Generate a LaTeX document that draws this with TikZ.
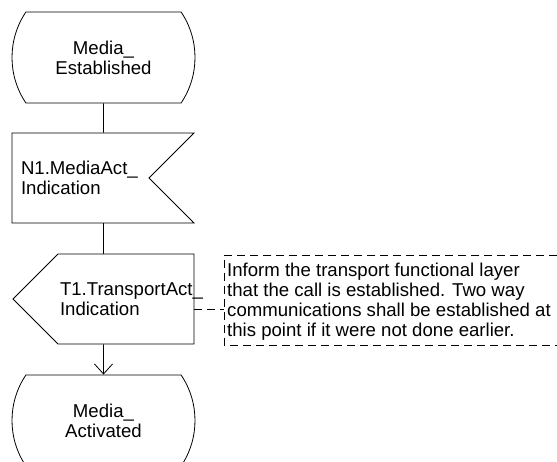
\documentclass[tikz,border=0pt]{standalone}
\usepackage{fontspec}
\setmainfont{Liberation Sans}
\usetikzlibrary{arrows.meta,shapes.misc,shapes.symbols,calc}

\begin{document}
\begin{tikzpicture}[x=1pt,y=-1pt,
  every node/.style={font=\fontsize{18.6}{20}\selectfont},
  sdl/.style={draw,line width=0.8pt},
  stt/.style={sdl,rounded rectangle,rounded rectangle arc length=68,
              minimum width=183pt,minimum height=91pt,align=center,inner sep=0pt},
  sigin/.style={sdl,signal,signal to=nowhere,signal from=east,signal pointer angle=90,
              text width=119pt,inner xsep=9pt,minimum height=90pt,align=left},
  sigout/.style={sdl,signal,signal from=nowhere,signal to=west,signal pointer angle=90,
              text width=132pt,inner xsep=2pt,minimum height=90pt,align=left},
  flow/.style={line width=0.8pt},
  cmt/.style={line width=0.8pt,dash pattern=on 8pt off 5pt}
]
\clip (0,0) rectangle (557,462);

\node[stt] (est) at (103.5,57.5) {Media\_\\Established};
\node[sigin] (mact) at (80.5,178) {N1.MediaAct\_\\Indication};
\node[sigout] (tact) at (126,299) {T1.TransportAct\_\\Indication};
\node[stt] (act) at (103.5,420.5) {Media\_\\Activated};

\draw[flow] (est) -- (mact.north -| est);
\draw[flow] (mact.south -| est) -- (tact.north -| est);
\draw[flow,-{Straight Barb[length=10pt,width=18pt]}] (tact.south -| est) -- (act);

% comment
\coordinate (cmtA) at (224,255);
\coordinate (cmtB) at (224,345);
\coordinate (cmtC) at (224,309);
\draw[cmt] (557,255) -- (cmtA) -- (cmtB) -- (557,345);
\draw[cmt] (tact.east |- cmtC) -- (cmtC);
\node[anchor=west,align=left,inner sep=0pt] (note) at (227,302)
  {Inform the transport functional layer\\that the call is established. Two way\\communications shall be established at\\this point if it were not done earlier.};
\end{tikzpicture}
\end{document}
